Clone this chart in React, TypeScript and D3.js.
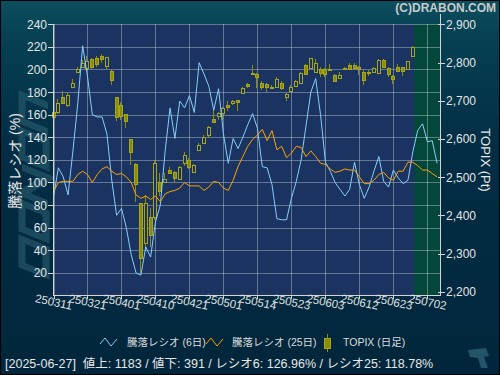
import React from 'react';
import * as d3 from 'd3';

// tick labels on the date axis, one every 7 trading days
const dateTicks = ['250311', '250321', '250401', '250410', '250421', '250501', '250514', '250523', '250603', '250612', '250623', '250702'];
const leftTicks = [20, 40, 60, 80, 100, 120, 140, 160, 180, 200, 220, 240];
const rightTicks = [2200, 2300, 2400, 2500, 2600, 2700, 2800, 2900];

// 騰落レシオ (6日)
const ratio6 = [
  87, 113, 105, 89, 128, 170, 221, 194, 160, 158,
  158, 143, 102, 71, 77, 60, 36, 20, 18, 43,
  34, 65, 80, 128, 166, 139, 172, 166, 177, 162,
  206, 196, 185, 164, 183, 143, 117, 139, 130, 140,
  151, 161, 148, 114, 113, 98, 68, 67, 67, 86,
  101, 120, 150, 180, 192, 160, 118, 110, 100, 94,
  88, 94, 118, 98, 86, 96, 110, 123, 101, 96,
  111, 104, 99, 102, 127, 146, 152, 136, 137, 117,
];

// 騰落レシオ (25日)
const ratio25 = [
  92, 100, 101, 101, 101, 107, 110, 107, 100, 107,
  112, 114, 110, 107, 108, 105, 100, 89, 86, 88,
  85, 88, 83, 90, 92, 93, 95, 100, 97, 97,
  97, 93, 96, 101, 100, 95, 93, 102, 114, 123,
  132, 138, 142, 147, 137, 146, 129, 132, 122, 126,
  132, 131, 123, 128, 123, 117, 116, 112, 109, 110,
  112, 111, 111, 105, 99, 99, 102, 107, 109, 104,
  102, 110, 110, 118, 118, 115, 111, 111, 108, 105,
];

// TOPIX daily candles [open, high, low, close]
const topix = [
  [2670, 2672, 2619, 2658], [2671, 2704, 2665, 2693], [2710, 2725, 2693, 2695], [2689, 2724, 2684, 2715],
  [2737, 2756, 2735, 2746], [2776, 2787, 2773, 2782], [2789, 2807, 2787, 2798], [2785, 2818, 2780, 2805],
  [2808, 2812, 2783, 2789], [2811, 2818, 2788, 2795], [2817, 2822, 2798, 2809], [2792, 2815, 2782, 2815],
  [2778, 2780, 2741, 2754], [2709, 2709, 2648, 2657], [2689, 2697, 2649, 2659], [2664, 2664, 2628, 2648],
  [2599, 2599, 2532, 2567], [2534, 2536, 2436, 2481], [2431, 2431, 2248, 2287], [2328, 2453, 2314, 2431],
  [2395, 2418, 2318, 2348], [2395, 2545, 2388, 2538], [2488, 2512, 2450, 2464], [2486, 2510, 2485, 2494],
  [2519, 2527, 2510, 2512], [2514, 2516, 2484, 2497], [2495, 2530, 2495, 2527], [2536, 2566, 2530, 2558],
  [2546, 2550, 2520, 2527], [2514, 2535, 2512, 2532], [2571, 2590, 2569, 2584], [2589, 2610, 2587, 2606],
  [2610, 2633, 2603, 2630], [2651, 2678, 2645, 2645], [2660, 2671, 2650, 2669], [2667, 2683, 2650, 2680],
  [2688, 2700, 2674, 2683], [2695, 2703, 2690, 2699], [2701, 2702, 2673, 2697], [2719, 2737, 2717, 2734],
  [2744, 2746, 2732, 2739], [2772, 2793, 2772, 2772], [2770, 2773, 2732, 2761], [2747, 2751, 2729, 2737],
  [2744, 2747, 2722, 2737], [2733, 2740, 2730, 2737], [2737, 2761, 2733, 2756], [2747, 2752, 2727, 2733],
  [2710, 2721, 2698, 2718], [2725, 2741, 2723, 2737], [2738, 2755, 2736, 2752], [2747, 2774, 2745, 2772],
  [2793, 2795, 2767, 2769], [2786, 2813, 2784, 2811], [2776, 2808, 2772, 2800], [2782, 2789, 2763, 2773],
  [2782, 2785, 2763, 2769], [2783, 2796, 2780, 2782], [2767, 2771, 2748, 2752], [2760, 2775, 2758, 2767],
  [2786, 2789, 2783, 2784], [2793, 2799, 2781, 2783], [2793, 2798, 2780, 2785], [2789, 2791, 2767, 2782],
  [2774, 2780, 2741, 2754], [2776, 2780, 2764, 2772], [2776, 2787, 2774, 2785], [2773, 2810, 2772, 2807],
  [2807, 2810, 2787, 2789], [2785, 2789, 2763, 2769], [2765, 2767, 2744, 2758], [2787, 2797, 2775, 2779],
  [2787, 2787, 2765, 2779], [2782, 2804, 2782, 2804], [2818, 2843, 2815, 2841],
];

const statusText = '[2025-06-27]  値上: 1183 / 値下: 391 / レシオ6: 126.96% / レシオ25: 118.78%';

const jp = '"Liberation Sans", "Noto Sans CJK JP", sans-serif';

function App() {
  const left = 53.5, right = 440, top = 24.3, bottom = 295.5;

  const x = d3.scaleLinear().domain([0, 79.6]).range([left, right]);
  const yL = d3.scaleLinear().domain([0, 240]).range([bottom, top]);
  const yR = d3.scaleLinear().domain([2200, 2900]).range([291.7, top]);

  const line = d3.line<number>()
    .x((d, i) => x(i))
    .y(d => yL(d));

  const px = (v: number) => Math.round(v) + 0.5;
  const fmt = d3.format(',');
  const lastDay = topix.length - 1;
  const futureX = Math.round(x(lastDay + 0.25));

  return (
    <svg width={500} height={375} style={{ position: 'absolute', left: 0, top: 0 }}>
      <defs>
        <linearGradient id="bg" x1="0" y1="0" x2="0" y2="1">
          <stop offset="0" stopColor="#0c4f5f" />
          <stop offset="0.1" stopColor="#064052" />
          <stop offset="0.4" stopColor="#022d44" />
          <stop offset="1" stopColor="#01263c" />
        </linearGradient>
      </defs>
      <rect x={0} y={0} width={500} height={375} fill="url(#bg)" />
      <rect x={0.5} y={0.5} width={499} height={374} fill="none" stroke="#000" />

      {/* watermark */}
      <g transform="translate(34,182) rotate(-90) skewX(-22)" fill="none" stroke="#2c5d70" strokeOpacity={0.6} strokeWidth={7}>
        <rect x={-88} y={-12} width={26} height={24} />
        <rect x={-52} y={-12} width={26} height={24} />
        <path d="M-16,14 L-16,-12 L10,14 L10,-12" />
        <rect x={20} y={-12} width={26} height={24} />
        <path d="M56,14 L56,-12 L82,-12 L82,14" />
      </g>
      <path d="M468,350 L486,348 L489,356 L484,357 L488,368 L481,368 L478,358 L470,357 Z" fill="#24546a" />

      <text x={496} y={12} textAnchor="end" fontFamily={jp} fontSize={12} fontWeight="bold" fill="#c9c9c9">(C)DRABON.COM</text>

      {/* plot background */}
      <rect x={53} y={24} width={387} height={272} fill="#1a3360" />
      <rect x={futureX} y={24} width={440 - futureX} height={272} fill="#03473a" />

      {/* grid */}
      <g stroke="#ffffff" strokeOpacity={0.33}>
        {leftTicks.map(v => (
          <line key={'h' + v} x1={53} x2={440} y1={px(yL(v))} y2={px(yL(v))} />
        ))}
        {dateTicks.map((t, k) => (
          <line key={'v' + t} x1={px(x(k * 7))} x2={px(x(k * 7))} y1={24} y2={296} />
        ))}
      </g>

      {/* TOPIX candles */}
      {topix.map(([o, h, l, c], i) => {
        const r = Math.round(x(i));
        const yTop = Math.round(yR(Math.max(o, c)));
        const yBot = Math.round(yR(Math.min(o, c)));
        const up = c >= o;
        return (
          <g key={'c' + i}>
            <line x1={r - 0.5} x2={r - 0.5} y1={Math.round(yR(h))} y2={Math.round(yR(l))} stroke="#8e8e06" />
            <rect x={r - 1.5} y={yTop + 0.5} width={3} height={Math.max(1, yBot - yTop)}
              fill={up ? '#1a3360' : '#8c8c04'} stroke="#a6a61c" />
          </g>
        );
      })}

      <path d={line(ratio6) || ''} fill="none" stroke="#87cefa" strokeWidth={1} />
      <path d={line(ratio25) || ''} fill="none" stroke="#ffa200" strokeWidth={1} />

      {/* axes */}
      <g stroke="#d4d4d4">
        <line x1={53.5} x2={53.5} y1={24} y2={296} />
        <line x1={440.5} x2={440.5} y1={14} y2={296} />
        <line x1={53} x2={441} y1={295.5} y2={295.5} />
        {leftTicks.map(v => (
          <line key={'lt' + v} x1={48} x2={53} y1={px(yL(v))} y2={px(yL(v))} />
        ))}
        {rightTicks.map(p => (
          <line key={'rt' + p} x1={438} x2={445} y1={px(yR(p))} y2={px(yR(p))} />
        ))}
        {dateTicks.map((t, k) => (
          <line key={'xt' + t} x1={px(x(k * 7))} x2={px(x(k * 7))} y1={295} y2={299} />
        ))}
      </g>

      <g fontFamily={jp} fontSize={12} fill="#e4e4e4">
        {leftTicks.map(v => (
          <text key={'ll' + v} x={47} y={yL(v) + 4.5} textAnchor="end">{v}</text>
        ))}
        {rightTicks.map(p => (
          <text key={'rl' + p} x={446} y={yR(p) + 4.5}>{fmt(p)}</text>
        ))}
      </g>

      <g fontFamily={jp} fontSize={11.5} fill="#e0e0e0">
        {dateTicks.map((t, k) => (
          <text key={'xl' + t} x={x(k * 7)} y={306} textAnchor="middle"
            transform={`rotate(12, ${x(k * 7)}, 303)`}>{t}</text>
        ))}
      </g>

      <text transform="translate(20,161) rotate(-90)" textAnchor="middle" fontFamily={jp} fontSize={14} fill="#e8e8e8">騰落レシオ (%)</text>
      <text transform="translate(481,160) rotate(90)" textAnchor="middle" fontFamily={jp} fontSize={13} fill="#e8e8e8">TOPIX (Pt)</text>

      {/* legend */}
      <g fontFamily={jp} fontSize={10.5} fill="#dcdcdc">
        <polyline points="100,344 105,338 111,346 117,339" fill="none" stroke="#87cefa" />
        <text x={127} y={346}>騰落レシオ (6日)</text>
        <polyline points="206,344 211,338 217,346 223,339" fill="none" stroke="#ffa200" />
        <text x={232} y={346}>騰落レシオ (25日)</text>
        <line x1={327.5} x2={327.5} y1={334} y2={352} stroke="#8e8e06" />
        <rect x={324.5} y={338.5} width={6} height={10} fill="#8c8c04" stroke="#a6a61c" />
        <text x={343} y={346}>TOPIX (日足)</text>
      </g>

      <text x={5} y={368} fontFamily={jp} fontSize={12.5} fill="#e6e6e6" style={{ whiteSpace: 'pre' }}>{statusText}</text>
    </svg>
  );
}

export default App;
